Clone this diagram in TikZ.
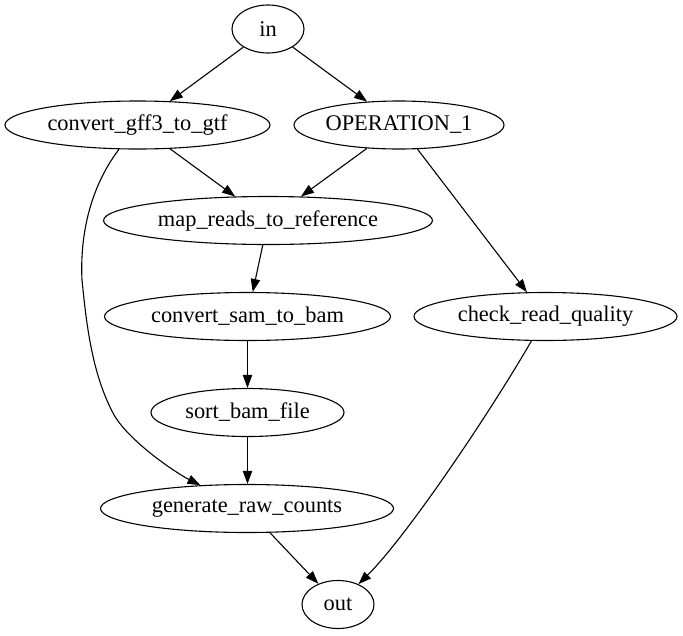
\documentclass[tikz,border=0pt]{standalone}
\usepackage{fontspec}
\setmainfont{Liberation Serif}
\usetikzlibrary{shapes.geometric,arrows.meta}
\begin{document}
\begin{tikzpicture}[x=1pt,y=-1pt,
  task/.style={draw, ellipse, line width=1.1pt, inner sep=0pt, minimum height=48pt,
    font=\fontsize{22.4}{26}\selectfont},
  edge/.style={line width=1.1pt, -{Triangle[length=13pt,width=9.3pt]}}]
\useasboundingbox (0,0) rectangle (683,635);
% tasks, one rank every 96
\node[task, minimum width=72pt]  (input)  at (268,29)    {in};
\node[task, minimum width=265pt] (conv)   at (137.5,125) {convert\_gff3\_to\_gtf};
\node[task, minimum width=210pt] (op)     at (399,125)   {OPERATION\_1};
\node[task, minimum width=329pt] (map)    at (268,220.5) {map\_reads\_to\_reference};
\node[task, minimum width=286pt] (sam)    at (247.5,316.5) {convert\_sam\_to\_bam};
\node[task, minimum width=263pt] (check)  at (545.5,316.5) {check\_read\_quality};
\node[task, minimum width=193pt] (sort)   at (247.5,412.5) {sort\_bam\_file};
\node[task, minimum width=293pt] (gen)    at (247,508.5) {generate\_raw\_counts};
\node[task, minimum width=72pt]  (output) at (338,604.5) {out};
% bends of the long edge
\coordinate (g1) at (82,280);
\coordinate (g2) at (113,413);
%straight edges
\draw[edge] (input) -- (conv);
\draw[edge] (input) -- (op);
\draw[edge] (conv) -- (map);
\draw[edge] (op) -- (map);
\draw[edge] (op) -- (check);
\draw[edge] (map) -- (sam);
\draw[edge] (sam) -- (sort);
\draw[edge] (sort) -- (sort |- gen.north);
\draw[edge] (gen) -- (output);
%curved edges
\draw[edge] (conv) .. controls (88,190) and (80,240) .. (g1)
  .. controls (86.5,325) and (92,373) .. (g2)
  .. controls (127,440) and (176,473) .. (gen);
\draw[edge] (check) .. controls (491,411) and (407.5,535.5) .. (output);
\end{tikzpicture}
\end{document}
